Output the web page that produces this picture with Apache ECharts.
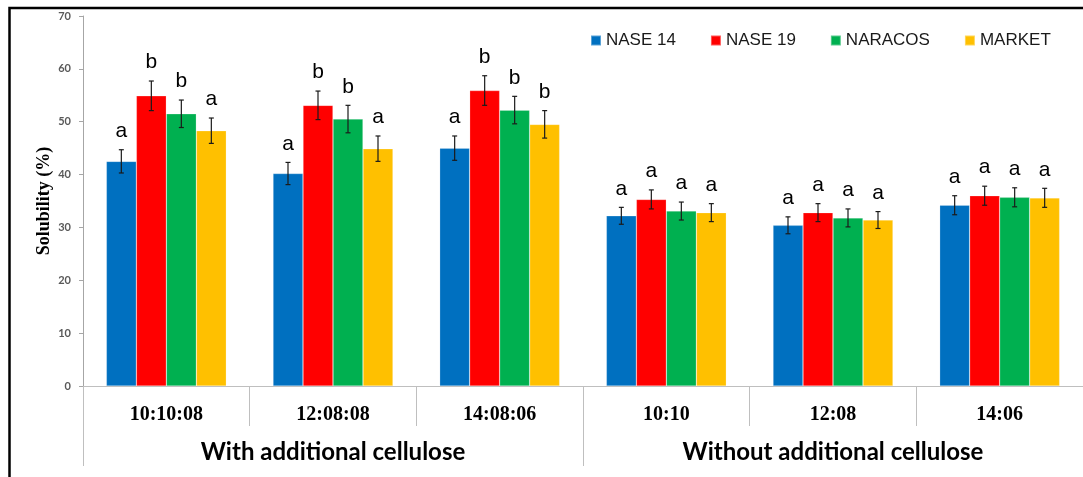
<!DOCTYPE html>
<html>
<head>
<meta charset="utf-8">
<script src="https://cdn.jsdelivr.net/npm/echarts@6/dist/echarts.min.js"></script>
<style>
  html, body { margin: 0; padding: 0; background: #fff; }
  #chart { width: 1083px; height: 477px; }
</style>
</head>
<body>
<div id="chart"></div>
<script>
// Solubility (%) by formulation ratio, with and without additional cellulose
const categories = ['10:10:08', '12:08:08', '14:08:06', '10:10', '12:08', '14:06'];
const groups = ['With additional cellulose', 'Without additional cellulose'];
const seriesNames = ['NASE 14', 'NASE 19', 'NARACOS', 'MARKET'];
const yTicks = [0, 10, 20, 30, 40, 50, 60, 70];

const nase14 = [42.5, 40.2, 45.0, 32.2, 30.4, 34.2];
const nase19 = [54.9, 53.1, 55.9, 35.3, 32.8, 36.0];
const naracos = [51.5, 50.5, 52.2, 33.1, 31.8, 35.7];
const market = [48.3, 44.9, 49.5, 32.8, 31.4, 35.6];

// standard deviations (error bars)
const nase14Err = [2.2, 2.1, 2.3, 1.6, 1.6, 1.8];
const nase19Err = [2.8, 2.7, 2.8, 1.8, 1.7, 1.8];
const naracosErr = [2.6, 2.6, 2.6, 1.7, 1.7, 1.8];
const marketErr = [2.4, 2.4, 2.6, 1.7, 1.6, 1.8];

// significance letters
const nase14Sig = ['a', 'a', 'a', 'a', 'a', 'a'];
const nase19Sig = ['b', 'b', 'b', 'a', 'a', 'a'];
const naracosSig = ['b', 'b', 'b', 'a', 'a', 'a'];
const marketSig = ['a', 'a', 'b', 'a', 'a', 'a'];

const colors = ['#0070C0', '#FF0000', '#00B050', '#FFC000'];
const values = [nase14, nase19, naracos, market];
const errors = [nase14Err, nase19Err, naracosErr, marketErr];
const letters = [nase14Sig, nase19Sig, naracosSig, marketSig];

const BAR_W = 30;

const barSeries = seriesNames.map((name, k) => ({
  name: name,
  type: 'bar',
  barWidth: BAR_W,
  barGap: '0%',
  itemStyle: { color: colors[k], borderColor: 'rgba(255,255,255,0.35)', borderWidth: 0.6 },
  data: values[k],
  z: 2
}));

const errSeries = seriesNames.map((name, k) => ({
  type: 'custom',
  name: name + ' err',
  xAxisIndex: 0,
  z: 5,
  silent: true,
  data: values[k].map((v, i) => [i, v, errors[k][i]]),
  encode: { x: 0, y: 1 },
  renderItem: function (params, api) {
    const i = api.value(0), v = api.value(1), e = api.value(2);
    const off = (k - 1.5) * BAR_W;
    const top = api.coord([i, v + e]);
    const bot = api.coord([i, v - e]);
    const x = top[0] + off;
    const cap = 2.5;
    const style = { stroke: '#1a1a1a', lineWidth: 1.2 };
    return {
      type: 'group',
      children: [
        { type: 'line', shape: { x1: x, y1: top[1], x2: x, y2: bot[1] }, style: style },
        { type: 'line', shape: { x1: x - cap, y1: top[1], x2: x + cap, y2: top[1] }, style: style },
        { type: 'line', shape: { x1: x - cap, y1: bot[1], x2: x + cap, y2: bot[1] }, style: style },
        {
          type: 'text',
          style: {
            text: letters[k][i],
            x: x, y: top[1] - 8,
            align: 'center', verticalAlign: 'bottom',
            font: '21px "Liberation Sans", Arial, sans-serif',
            fill: '#000'
          }
        }
      ]
    };
  }
}));

const chart = echarts.init(document.getElementById('chart'), null, { renderer: 'canvas' });
chart.setOption({
  animation: false,
  backgroundColor: '#fff',
  legend: {
    data: seriesNames,
    left: 585, top: 27,
    icon: 'rect', itemWidth: 10, itemHeight: 10, itemGap: 34,
    textStyle: { fontFamily: '"Liberation Sans", Arial, sans-serif', fontSize: 17, color: '#1a1a1a' }
  },
  grid: { left: 83, right: 0, top: 16, bottom: 91, containLabel: false },
  xAxis: [
    {
      type: 'category', position: 'bottom', data: categories,
      axisLine: { show: true, lineStyle: { color: '#bfbfbf', width: 1 } },
      axisTick: { show: true, length: 40, interval: 0, lineStyle: { color: '#bfbfbf' } },
      axisLabel: {
        interval: 0, margin: 19,
        fontFamily: '"Liberation Serif", "Times New Roman", serif', fontWeight: 'bold',
        fontSize: 20, color: '#000'
      }
    },
    {
      type: 'category', position: 'bottom', data: groups,
      axisLine: { show: false },
      axisTick: { show: true, length: 80, interval: 0, lineStyle: { color: '#bfbfbf' } },
      axisLabel: {
        interval: 0, margin: 54,
        fontFamily: 'Lato, "Open Sans", sans-serif', fontWeight: 'bold',
        fontSize: 24, color: '#000'
      }
    }
  ],
  yAxis: {
    type: 'value', min: 0, max: 70, interval: 10,
    name: 'Solubility (%)', nameLocation: 'middle', nameGap: 30, nameRotate: 90,
    nameMoveOverlap: false,
    nameTextStyle: { fontFamily: '"Liberation Serif", "Times New Roman", serif', fontWeight: 'bold', fontSize: 18, color: '#000' },
    axisLine: { show: true, lineStyle: { color: '#a6a6a6', width: 1 } },
    axisTick: { show: true, length: 4, lineStyle: { color: '#a6a6a6' } },
    splitLine: { show: false },
    axisLabel: {
      margin: 12, fontSize: 11, fontWeight: 'bold', color: '#595959',
      fontFamily: 'Lato, "Liberation Sans", sans-serif',
      formatter: v => (yTicks.indexOf(v) >= 0 ? String(v) : '')
    }
  },
  graphic: [
    {
      type: 'rect', silent: true, z: 100,
      shape: { x: 9.5, y: 8, width: 1200, height: 600 },
      style: { fill: 'none', stroke: '#000', lineWidth: 2.5 }
    }
  ],
  series: barSeries.concat(errSeries)
});
</script>
</body>
</html>
